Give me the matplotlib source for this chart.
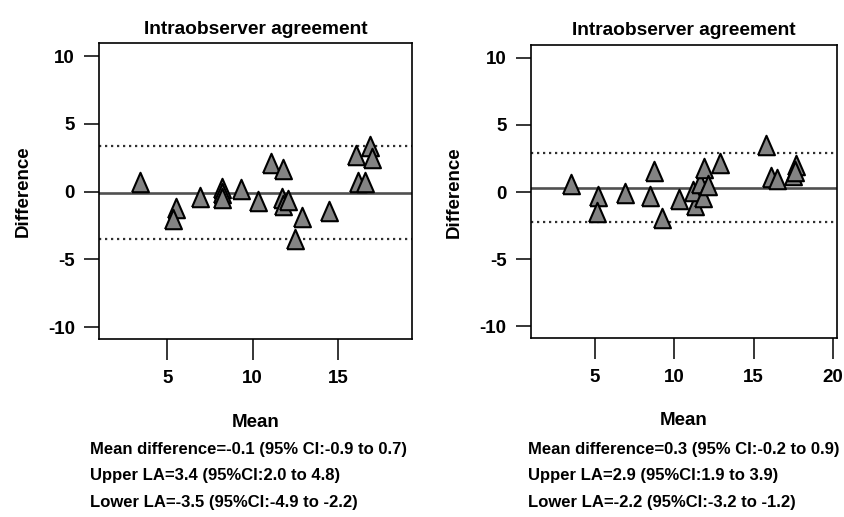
"""Bland-Altman style intraobserver agreement plots (two panels)."""

import matplotlib

matplotlib.use("Agg")

import matplotlib.pyplot as plt

plt.rcParams["font.family"] = ["Liberation Sans", "DejaVu Sans"]
plt.rcParams["font.weight"] = "bold"
plt.rcParams["axes.unicode_minus"] = False

# left panel: mean vs difference
left_mean = [3.4, 5.5, 5.3, 6.9, 8.2, 8.2, 8.2, 9.3, 10.3, 11.1, 11.8, 11.7,
             11.8, 12.1, 12.9, 12.5, 14.5, 16.1, 16.9, 17.0, 16.2, 16.6]
left_diff = [0.7, -1.2, -2.0, -0.4, 0.3, -0.1, -0.5, 0.2, -0.7, 2.1, 1.7, -0.5,
             -1.0, -0.6, -1.9, -3.5, -1.4, 2.7, 3.4, 2.5, 0.7, 0.7]
left_bias = -0.1
left_upper = 3.4
left_lower = -3.5
left_notes = [
    "Mean difference=-0.1 (95% CI:-0.9 to 0.7)",
    "Upper LA=3.4 (95%CI:2.0 to 4.8)",
    "Lower LA=-3.5 (95%CI:-4.9 to -2.2)",
]

# right panel
right_mean = [3.5, 5.2, 5.1, 6.9, 8.7, 8.5, 9.2, 10.3, 11.3, 11.2, 11.6, 11.9,
              11.8, 12.1, 12.9, 15.8, 16.1, 16.5, 17.5, 17.7, 17.6]
right_diff = [0.6, -0.3, -1.5, -0.1, 1.6, -0.3, -1.9, -0.5, -1.0, 0.1, 0.7, 1.8,
              -0.4, 0.5, 2.2, 3.5, 1.1, 1.0, 1.3, 2.0, 1.6]
right_bias = 0.3
right_upper = 2.9
right_lower = -2.2
right_notes = [
    "Mean difference=0.3 (95% CI:-0.2 to 0.9)",
    "Upper LA=2.9 (95%CI:1.9 to 3.9)",
    "Lower LA=-2.2 (95%CI:-3.2 to -1.2)",
]

y_ticks = [-10, -5, 0, 5, 10]
title = "Intraobserver agreement"

# slightly tall triangle, like the source figure
TRIANGLE = [(-0.87, -1.0), (0.87, -1.0), (0.0, 1.0), (-0.87, -1.0)]


def draw_panel(ax, mean, diff, bias, upper, lower, xticks, xlim, ylabel_x):
    ax.axhline(bias, color="#505050", linewidth=1.9, zorder=2)
    for level in (upper, lower):
        ax.axhline(level, color="#303030", linewidth=1.6,
                   linestyle=(0, (1, 1.7)), zorder=2)
    ax.plot(mean, diff, linestyle="none", marker=TRIANGLE, markersize=14,
            markerfacecolor="#838383", markeredgecolor="black",
            markeredgewidth=1.5, zorder=3)
    ax.set_xlim(*xlim)
    ax.set_ylim(-10.9, 10.95)
    ax.set_xticks(xticks)
    ax.set_yticks(y_ticks)
    for side in ax.spines.values():
        side.set_linewidth(1.2)
    ax.tick_params(axis="x", length=15, width=1.1, pad=7, labelsize=13.5)
    ax.tick_params(axis="y", length=10.5, width=1.1, pad=7, labelsize=13.5)
    ax.set_title(title, fontsize=13.75, fontweight="bold", pad=7)
    ax.set_ylabel("Difference", fontsize=13.5, fontweight="bold")
    ax.yaxis.set_label_coords(ylabel_x, 0.5)
    ax.set_xlabel("Mean", fontsize=13.5, fontweight="bold")
    ax.xaxis.label.set_va("baseline")
    ax.xaxis.set_label_coords(0.5, -0.295)


fig = plt.figure(figsize=(8.45, 5.17), dpi=100)
ax_left = fig.add_axes([0.1175, 0.3437, 0.3697, 0.5725])
ax_right = fig.add_axes([0.6284, 0.3453, 0.3618, 0.5677])

draw_panel(ax_left, left_mean, left_diff, left_bias, left_upper, left_lower,
           [5, 10, 15], (1.0, 19.34), -0.215)
draw_panel(ax_right, right_mean, right_diff, right_bias, right_upper, right_lower,
           [5, 10, 15, 20], (0.96, 20.25), -0.223)

for x0, notes in ((0.1065, left_notes), (0.6252, right_notes)):
    for y0, line in zip((0.1219, 0.0706, 0.0193), notes):
        fig.text(x0, y0, line, fontsize=12, fontweight="bold", va="baseline")

fig.savefig("out.png", dpi=100)
plt.close(fig)
